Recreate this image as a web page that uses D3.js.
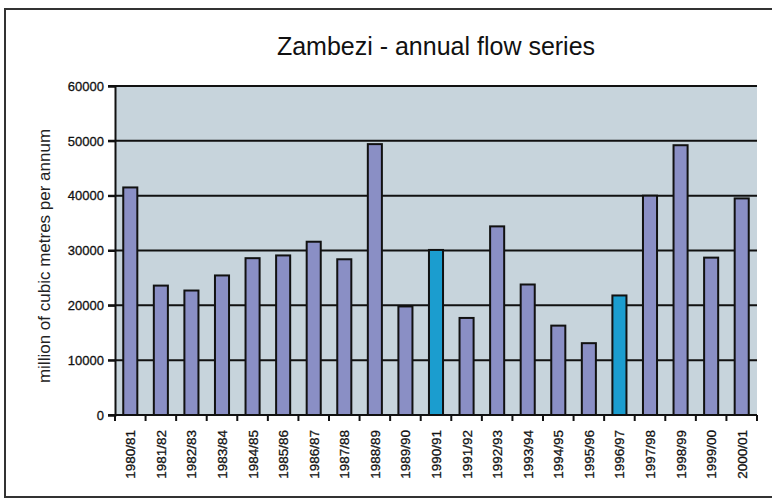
<!DOCTYPE html>
<html>
<head>
<meta charset="utf-8">
<script src="https://cdn.jsdelivr.net/npm/d3@7"></script>
<style>
  body { margin: 0; background: #fff; }
  svg { display: block; font-family: "Liberation Sans", Arial, sans-serif; }
</style>
</head>
<body>
<script>
// annual flow, million m3
var seasons = ["1980/81", "1981/82", "1982/83", "1983/84", "1984/85", "1985/86", "1986/87",
    "1987/88", "1988/89", "1989/90", "1990/91", "1991/92", "1992/93", "1993/94",
    "1994/95", "1995/96", "1996/97", "1997/98", "1998/99", "1999/00", "2000/01"];
var flows = [41500, 23600, 22700, 25450, 28600, 29100, 31600,
    28400, 49400, 19800, 30100, 17700, 34400, 23800,
    16300, 13100, 21800, 40000, 49200, 28700, 39500];
var highlighted = ["1990/91", "1996/97"];
var yTicks = [0, 10000, 20000, 30000, 40000, 50000, 60000];

var w = 772,
    h = 500,
    pl = 115, pr = 757, pt = 86, pb = 415;

var svg = d3.select("body").append("svg")
    .attr("width", w)
    .attr("height", h);

// outer frame (runs off the right edge like the scan)
svg.append("rect")
    .attr("x", 5).attr("y", 9)
    .attr("width", 800).attr("height", 488)
    .attr("fill", "none")
    .attr("stroke", "#333")
    .attr("stroke-width", 2);

var x = d3.scaleBand()
    .domain(seasons)
    .range([pl, pr])
    .paddingInner(0.54)
    .paddingOuter(0.27);

var y = d3.scaleLinear()
    .domain([0, 60000])
    .range([pb, pt]);

// plot background
svg.append("rect")
    .attr("x", pl).attr("y", pt)
    .attr("width", pr - pl).attr("height", pb - pt)
    .attr("fill", "#c7d4dc");

// grid lines
svg.append("g").selectAll("line")
    .data(yTicks.filter(function(d) { return d > 0; }))
  .enter().append("line")
    .attr("x1", pl - 7).attr("x2", pr)
    .attr("y1", function(d) { return y(d); })
    .attr("y2", function(d) { return y(d); })
    .attr("stroke", "#111")
    .attr("stroke-width", 2);

// bars
svg.append("g").selectAll("rect")
    .data(seasons)
  .enter().append("rect")
    .attr("x", function(d) { return x(d); })
    .attr("width", x.bandwidth())
    .attr("y", function(d, i) { return y(flows[i]); })
    .attr("height", function(d, i) { return y(0) - y(flows[i]); })
    .attr("fill", function(d) { return highlighted.indexOf(d) >= 0 ? "#1b9dcf" : "#8a8fc5"; })
    .attr("stroke", "#111")
    .attr("stroke-width", 2);

// y axis
var yAxis = svg.append("g")
    .attr("transform", "translate(" + pl + ",0)")
    .call(d3.axisLeft(y).tickValues(yTicks).tickSize(7).tickPadding(4).tickFormat(d3.format("d")));
yAxis.select(".domain").attr("stroke", "#111").attr("stroke-width", 2);
yAxis.selectAll(".tick line").attr("stroke", "#111").attr("stroke-width", 2);
yAxis.selectAll("text")
    .attr("font-size", 13)
    .attr("fill", "#111")
    .attr("stroke", "#111").attr("stroke-width", 0.3)
    .attr("font-family", "Liberation Sans, Arial, sans-serif");

// x axis: ticks at band boundaries
var xAxis = svg.append("g")
    .attr("transform", "translate(0," + pb + ")");
xAxis.append("line")
    .attr("x1", pl - 7).attr("x2", pr)
    .attr("stroke", "#111").attr("stroke-width", 2);
var step = x.step();
xAxis.selectAll(".xt")
    .data(d3.range(seasons.length + 1))
  .enter().append("line")
    .attr("class", "xt")
    .attr("x1", function(i) { return pl + i * step; })
    .attr("x2", function(i) { return pl + i * step; })
    .attr("y1", 0).attr("y2", 6)
    .attr("stroke", "#111").attr("stroke-width", 2);
xAxis.selectAll("text")
    .data(seasons)
  .enter().append("text")
    .attr("transform", function(d) {
      return "translate(" + (x(d) + x.bandwidth() / 2 + 5) + ",15) rotate(-90)";
    })
    .attr("text-anchor", "end")
    .attr("font-size", 13.5)
    .attr("fill", "#111")
    .attr("stroke", "#111").attr("stroke-width", 0.3)
    .text(function(d) { return d; });

// axis title
svg.append("text")
    .attr("transform", "translate(50,256) rotate(-90)")
    .attr("text-anchor", "middle")
    .attr("font-size", 17)
    .attr("fill", "#222")
    .text("million of cubic metres per annum");

// chart title
svg.append("text")
    .attr("x", 436).attr("y", 55)
    .attr("text-anchor", "middle")
    .attr("font-size", 25)
    .attr("fill", "#111")
    .text("Zambezi - annual flow series");
</script>
</body>
</html>
